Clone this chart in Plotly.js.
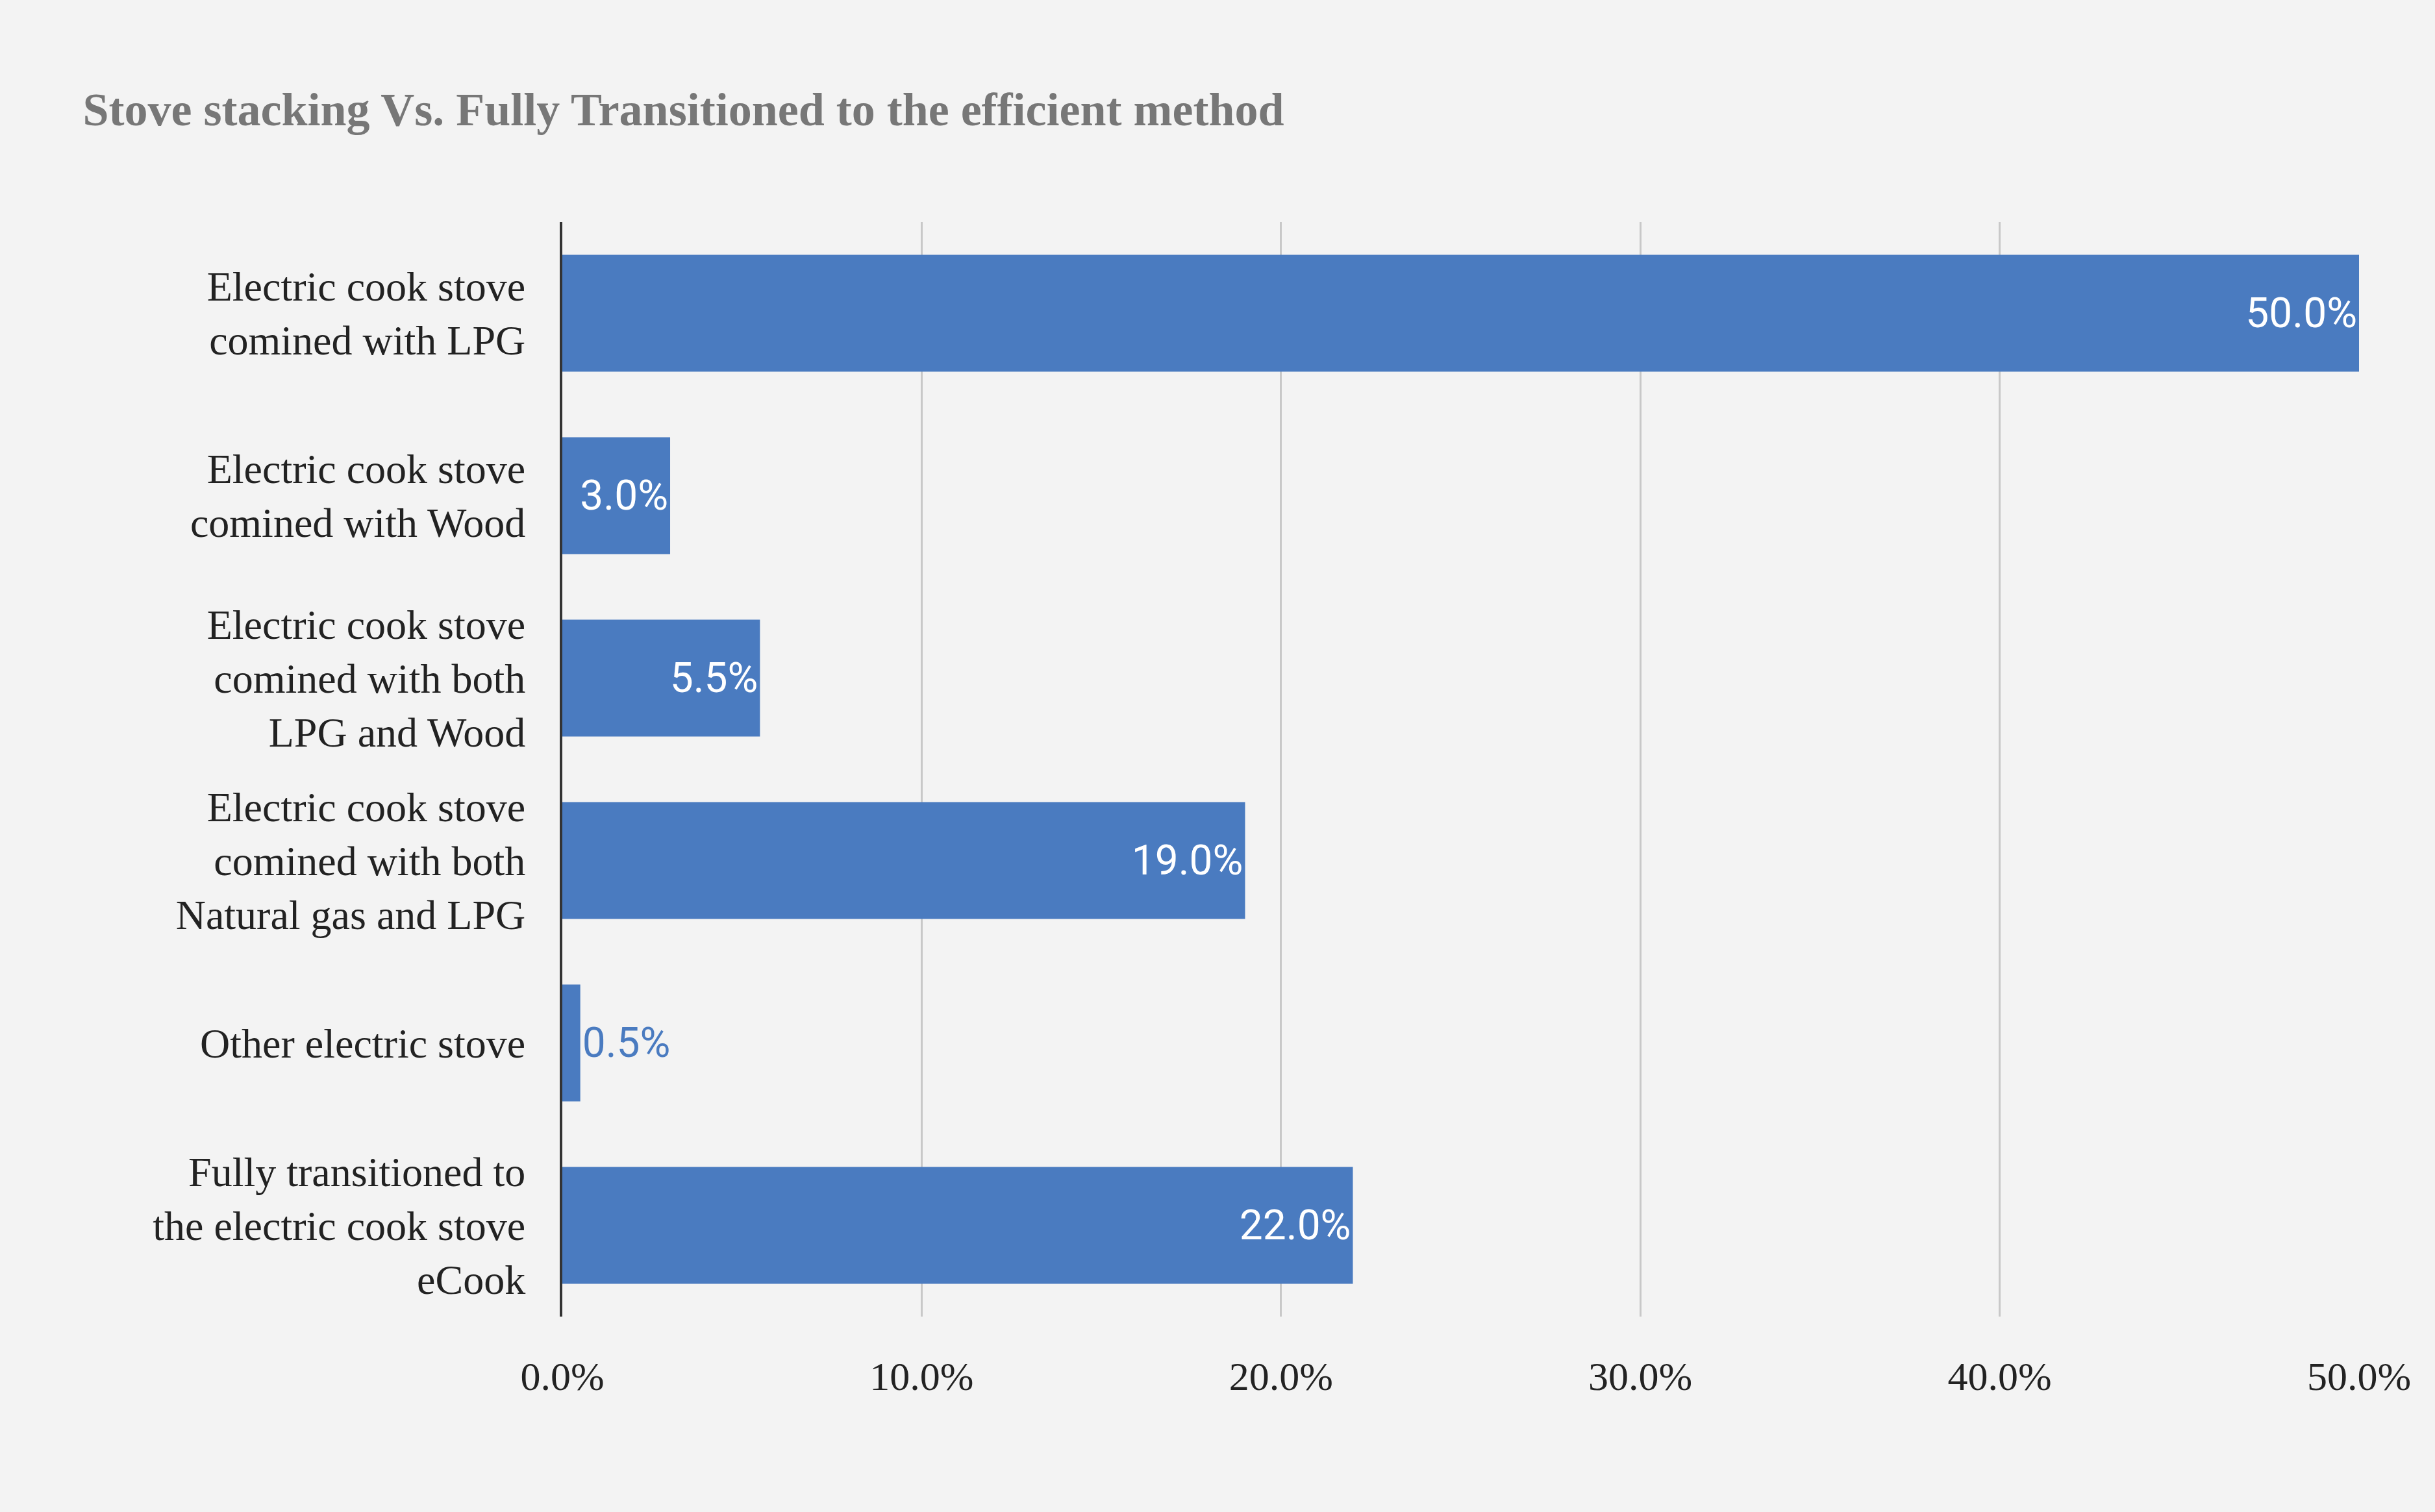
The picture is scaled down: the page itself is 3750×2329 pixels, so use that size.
<!DOCTYPE html>
<html>
<head>
<meta charset="utf-8">
<script src="https://cdn.plot.ly/plotly-3.0.1.min.js"></script>
<style>html,body{margin:0;padding:0;background:#f3f3f3;}</style>
</head>
<body>
<div id="chart" style="width:3750px;height:2329px;"></div>
<script>
// categories top to bottom
var categories = [
    "Electric cook stove<br>comined with LPG",
    "Electric cook stove<br>comined with Wood",
    "Electric cook stove<br>comined with both<br>LPG and Wood",
    "Electric cook stove<br>comined with both<br>Natural gas and LPG",
    "Other electric stove",
    "Fully transitioned to<br>the electric cook stove<br>eCook"
];
var shares = [50.0, 3.0, 5.5, 19.0, 0.5, 22.0];
var tickVals = [0, 10, 20, 30, 40, 50];
var tickText = ["0.0%", "10.0%", "20.0%", "30.0%", "40.0%", "50.0%"];

var barColor = '#4a7bc0';
var serif = '"Liberation Serif", "DejaVu Serif", serif';

var data = [{
    type: 'bar',
    orientation: 'h',
    y: categories,
    x: shares,
    text: shares.map(function (v) { return v.toFixed(1) + '%'; }),
    textposition: 'auto',
    insidetextanchor: 'end',
    insidetextfont: {color: '#ffffff', size: 64, family: 'Roboto, sans-serif'},
    outsidetextfont: {color: barColor, size: 64, family: 'Roboto, sans-serif'},
    marker: {color: barColor},
    hoverinfo: 'none',
    cliponaxis: false
}];

var layout = {
    width: 3750,
    height: 2329,
    paper_bgcolor: '#f3f3f3',
    plot_bgcolor: '#f3f3f3',
    margin: {l: 866, r: 117, t: 342, b: 301},
    bargap: 0.36,
    showlegend: false,
    title: {
        text: '<b>Stove stacking Vs. Fully Transitioned to the efficient method</b>',
        font: {family: serif, size: 72, color: '#777777'},
        x: 0.034, xanchor: 'left', y: 0.928, yanchor: 'middle'
    },
    xaxis: {
        range: [0, 50],
        tickvals: tickVals,
        ticktext: tickText,
        showgrid: true,
        gridcolor: '#c8c8c8',
        gridwidth: 3,
        zeroline: false,
        showline: false,
        ticks: '',
        ticklabelstandoff: 50,
        tickfont: {family: serif, size: 62, color: '#222222'}
    },
    yaxis: {
        autorange: 'reversed',
        showline: true,
        linecolor: '#333333',
        linewidth: 4,
        ticks: '',
        ticklabelstandoff: 40,
        tickfont: {family: serif, size: 64, color: '#222222'}
    }
};

Plotly.newPlot('chart', data, layout, {displayModeBar: false, staticPlot: true});
</script>
</body>
</html>
